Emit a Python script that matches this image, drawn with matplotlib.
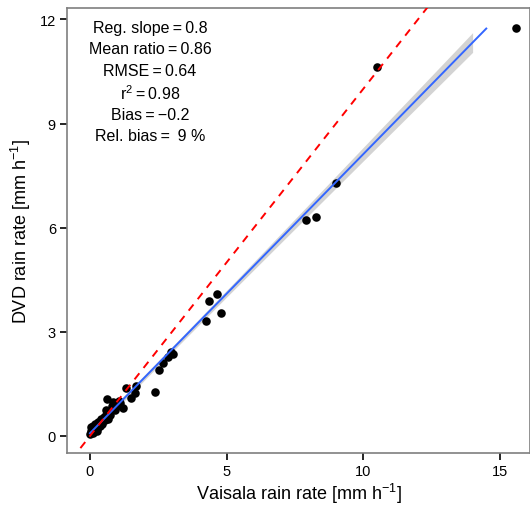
import numpy as np
import matplotlib.pyplot as plt

plt.rcParams['font.family'] = ['Liberation Sans', 'DejaVu Sans']
plt.rcParams['mathtext.fontset'] = 'custom'
plt.rcParams['mathtext.rm'] = 'Liberation Sans'
plt.rcParams['mathtext.it'] = 'Liberation Sans'

# Vaisala (x) vs DVD (y) rain rates, mm/h
vaisala = [0.0, 0.02, 0.05, 0.1, 0.12, 0.15, 0.2, 0.25, 0.3, 0.3, 0.35, 0.4, 0.45,
           0.5, 0.55, 0.6, 0.62, 0.65, 0.7, 0.75, 0.8, 0.84, 0.9, 0.95, 1.0, 1.05,
           1.1, 1.21, 1.32, 1.5, 1.65, 1.68, 0.59,
           2.38, 2.53, 2.67, 2.86, 2.97, 3.02, 4.25, 4.36, 4.65, 4.80,
           7.91, 8.28, 9.01, 10.51, 15.57]
dvd = [0.05, 0.15, 0.25, 0.1, 0.3, 0.2, 0.35, 0.15, 0.4, 0.25, 0.3, 0.5, 0.35,
       0.55, 0.45, 0.6, 1.07, 0.5, 0.7, 0.6, 0.85, 0.98, 0.75, 0.9, 0.85, 1.0,
       0.95, 0.81, 1.38, 1.10, 1.24, 1.44, 0.75,
       1.27, 1.90, 2.10, 2.28, 2.42, 2.36, 3.31, 3.89, 4.09, 3.54,
       6.22, 6.31, 7.29, 10.63, 11.76]

stats = ['Reg. slope\u2009=\u20090.8', 'Mean ratio\u2009=\u20090.86', 'RMSE\u2009=\u20090.64',
         'r$^2$\u2009=\u20090.98', 'Bias\u2009=\u2009\u22120.2', 'Rel. bias\u2009=\u2009 9 %']

x = np.array(vaisala)
y = np.array(dvd)

# linear fit with confidence band
slope, icpt = np.polyfit(x, y, 1)
n = len(x)
resid = y - (slope * x + icpt)
s = np.sqrt(np.sum(resid ** 2) / (n - 2))
xb = np.linspace(x.min(), 14.0, 100)
se = s * np.sqrt(1.0 / n + (xb - x.mean()) ** 2 / np.sum((x - x.mean()) ** 2))
band = 1.3 * se
xl = np.linspace(x.min(), 14.5, 100)

fig = plt.figure(figsize=(5.3, 5.1), dpi=100)
ax = fig.add_axes([67 / 530, 56 / 510, 463 / 530, 445 / 510])

ax.fill_between(xb, slope * xb + icpt - band, slope * xb + icpt + band,
                color='#b0b0b0', alpha=0.55, lw=0, zorder=1)
ax.scatter(x, y, s=38, color='black', zorder=2, lw=0)
ax.plot(xl, slope * xl + icpt, color='#3366ff', lw=1.4, zorder=3)
ax.plot([-2, 20], [-2, 20], color='red', ls=(0, (4, 3.5)), lw=1.4, zorder=4)

ax.set_xlim(-0.84, 16.1)
ax.set_ylim(-0.49, 12.33)
ax.set_xticks([0, 5, 10, 15])
ax.set_yticks([0, 3, 6, 9, 12])
ax.tick_params(direction='out', length=5, width=1.2, color='black',
               labelsize=10.5, pad=3)
for sp in ax.spines.values():
    sp.set_color('#7f7f7f')
    sp.set_linewidth(1.2)

ax.set_xlabel('Vaisala rain rate [mm h$^{-1}$]', fontsize=13, labelpad=2)
ax.set_ylabel('DVD rain rate [mm h$^{-1}$]', fontsize=13, labelpad=5)

ys = [28, 49, 72, 94, 115, 137]
for t, py in zip(stats, ys):
    fig.text(150 / 530, 1 - py / 510, t, ha='center', va='center', fontsize=11.5)

fig.savefig('out.png', dpi=100)
